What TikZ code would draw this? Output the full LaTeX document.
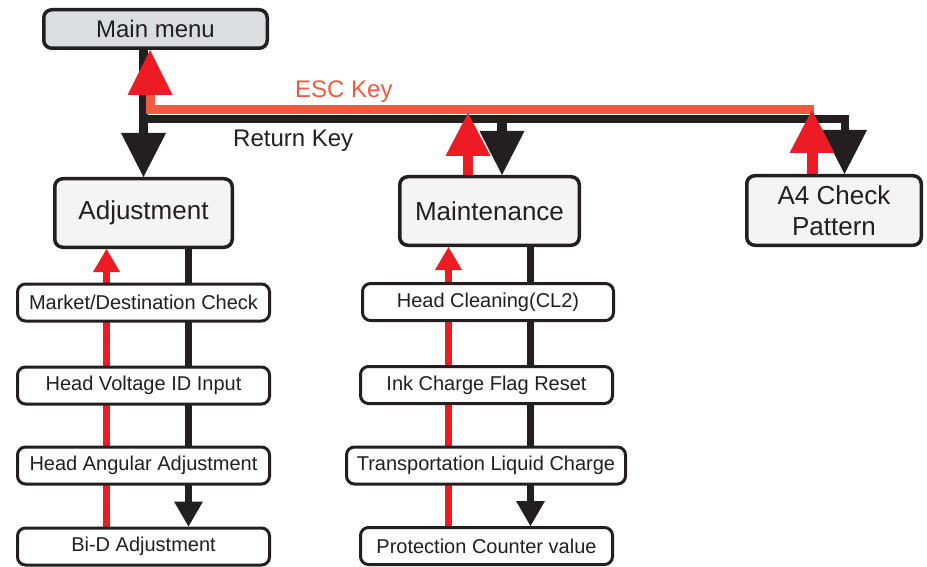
\documentclass[tikz,border=0pt]{standalone}
\usepackage{fontspec}
\setmainfont{Liberation Sans}
\usetikzlibrary{arrows.meta,backgrounds}
\definecolor{inkblack}{HTML}{231F20}
\definecolor{escorange}{HTML}{F15A40}
\definecolor{arrowred}{HTML}{ED1C24}
\definecolor{menugray}{HTML}{DCDDDF}
\definecolor{boxgray}{HTML}{F4F4F4}
\begin{document}
\begin{tikzpicture}[x=1pt,y=-1pt,every node/.style={text=inkblack,inner sep=0pt},
	bigbox/.style={draw=inkblack,line width=3.5pt,rounded corners=8pt,fill=boxgray,align=center,font=\fontsize{26}{31}\selectfont},
	subbox/.style={draw=inkblack,line width=3pt,rounded corners=8pt,fill=white,minimum height=37pt,font=\fontsize{20}{24}\selectfont},
	retline/.style={draw=inkblack,line width=9pt,-{Triangle[width=45pt,length=44pt,line width=0pt]}},
	escup/.style={draw=arrowred,line width=10pt,-{Triangle[width=45pt,length=43pt,line width=0pt]}},
	subret/.style={draw=inkblack,line width=6.5pt,-{Triangle[width=29pt,length=25pt,line width=0pt]}},
	subesc/.style={draw=arrowred,line width=6.5pt,-{Triangle[width=27pt,length=23pt,line width=0pt]}}]
	\useasboundingbox (0,0) rectangle (927,567);
	\node[bigbox,fill=menugray,minimum width=223.5pt,minimum height=38.5pt,font=\fontsize{24}{28}\selectfont] (main) at (155.5,29) {Main menu};
	\node[bigbox,minimum width=177.5pt,minimum height=68.5pt] (adj) at (143.5,213) {Adjustment};
	\node[bigbox,minimum width=179.5pt,minimum height=68.5pt] (maint) at (489.5,211) {Maintenance};
	\node[bigbox,minimum width=174.5pt,minimum height=69.5pt] (a4) at (834,210.5) {A4 Check\\Pattern};
	\foreach \nm/\px/\py/\bw/\txt in {mdc/143.5/302.5/252/{Market/Destination Check}, hvi/143.5/385.5/252/{Head Voltage ID Input}, haa/143.5/465.5/252/{Head Angular Adjustment}, bid/143.5/546.5/252/{Bi-D Adjustment}, hcl/488/302/251/{Head Cleaning(CL2)}, icf/486.5/385/252/{Ink Charge Flag Reset}, tlc/486/465.5/279/{Transportation Liquid Charge}, pcv/486.5/546/252/{Protection Counter value}}
		\node[subbox,minimum width=\bw pt] (\nm) at (\px,\py) {\txt};
	\node[anchor=base west,text=escorange,font=\fontsize{24}{28}\selectfont] (esc) at (295,98) {ESC Key};
	\node[anchor=base west,font=\fontsize{24}{28}\selectfont] (ret) at (233,147) {Return Key};
	\coordinate (escbus) at (0,110);
	\coordinate (retbus) at (0,119.5);
	\begin{scope}[on background layer]
		\draw[retline] (main.south -| adj.north) -- (adj.north);
		\draw[retline,line width=8pt] (adj.north |- retbus) -- ([xshift=10.5pt]a4.north |- retbus) -- ([xshift=10.5pt]a4.north);
		\draw[retline,line width=10pt] ([xshift=12.5pt]maint.north |- retbus) -- ([xshift=12.5pt]maint.north);
		\draw[draw=escorange,line width=9pt,{Triangle[color=arrowred,width=45pt,length=45pt,line width=0pt]}-] ([xshift=-5.5pt]main.south) -- ([xshift=-5.5pt]main.south |- escbus) -- ([xshift=-20pt]a4.north |- escbus);
		\draw[escup] ([xshift=-21.5pt]maint.north) -- ([xshift=-21.5pt,yshift=-3pt]maint.north |- escbus);
		\draw[escup,line width=11pt] ([xshift=-22pt]a4.north) -- ([xshift=-22pt]a4.north |- escbus);
		\draw[subesc] ([xshift=-37pt]bid.north) -- ([xshift=-37pt]adj.south);
		\draw[subret] ([xshift=45pt]adj.south) -- ([xshift=45pt]bid.north);
		\draw[subesc] ([xshift=-41pt]maint.south |- pcv.north) -- ([xshift=-41pt]maint.south);
		\draw[subret] ([xshift=41pt]maint.south) -- ([xshift=41pt]maint.south |- pcv.north);
	\end{scope}
\end{tikzpicture}
\end{document}
